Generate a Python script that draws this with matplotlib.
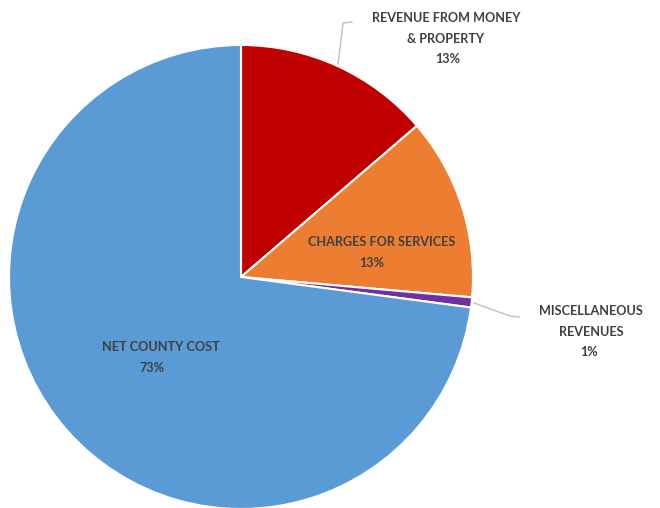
import matplotlib.pyplot as plt

# Revenue sources (share of total, %), clockwise from 12 o'clock
categories = [["REVENUE FROM MONEY", "& PROPERTY"], ["CHARGES FOR SERVICES"],
              ["MISCELLANEOUS", "REVENUES"], ["NET COUNTY COST"]]
values = [13.7, 12.7, 0.7, 72.9]
pct_labels = ["13%", "13%", "1%", "73%"]
colors = ["#C00000", "#ED7D31", "#7030A0", "#5B9BD5"]

W, H = 660, 508
cx, cy, R = 241, 277, 232  # pie centre and radius in pixels

fig = plt.figure(figsize=(W / 100, H / 100), dpi=100)
ax = fig.add_axes([0, 0, 1, 1])

ax.pie(values, colors=colors, startangle=90, counterclock=False,
       radius=1.0, center=(0, 0), frame=False,
       wedgeprops=dict(edgecolor="white", linewidth=1.5))
ax.set_xlim(-cx / R, (W - cx) / R)
ax.set_ylim(-(H - cy) / R, cy / R)
ax.set_aspect("equal")
ax.axis("off")


def px(x, y):
    return ((x - cx) / R, (cy - y) / R)


txt = dict(fontsize=9.1, fontweight="bold", color="#404040",
           family=["Lato", "DejaVu Sans"], ha="center", va="center")

# label lines: (text, centre x, centre y) in pixels
label_lines = [
    (categories[0][0], 446, 18), (categories[0][1], 446, 39), (pct_labels[0], 448, 59),
    (categories[1][0], 382, 242), (pct_labels[1], 372, 263),
    (categories[2][0], 591, 311), (categories[2][1], 591, 332), (pct_labels[2], 589, 352),
    (categories[3][0], 161, 347), (pct_labels[3], 152, 368),
]
for s, x, y in label_lines:
    ax.text(*px(x, y), s, **txt)

# leader lines
lx, ly = zip(*[px(338, 64), px(343, 23), px(352, 22)])
ax.plot(lx, ly, color="#BFBFBF", lw=1)
lx, ly = zip(*[px(474, 303), px(510, 316), px(519, 317)])
ax.plot(lx, ly, color="#BFBFBF", lw=1)

fig.savefig("out.png", dpi=100, facecolor="white")
